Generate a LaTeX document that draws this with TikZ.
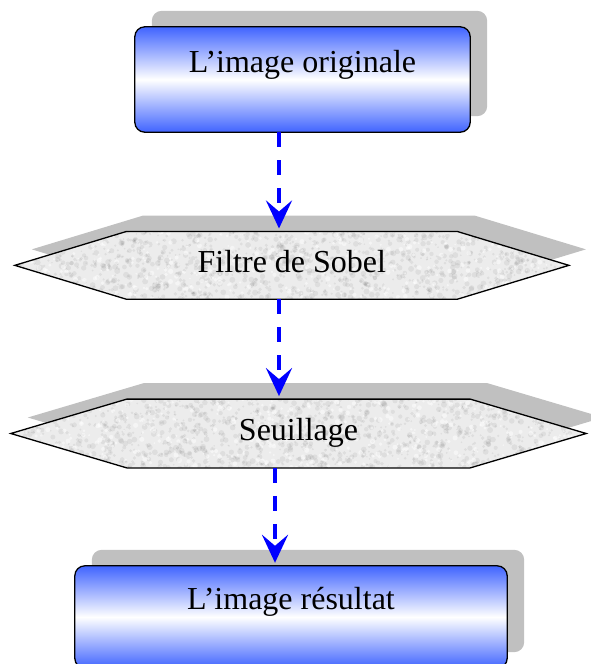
\documentclass[tikz,border=0pt]{standalone}
\usepackage{fontspec}
\setmainfont{Liberation Serif}
\usetikzlibrary{arrows.meta,calc}
\definecolor{boxblue}{RGB}{64,100,255}
\definecolor{shadowgray}{RGB}{192,192,192}
\definecolor{granite}{RGB}{236,236,236}
\definecolor{flowblue}{RGB}{0,0,255}
\pgfdeclarelayer{background}
\pgfsetlayers{background,main}

% hexagon outline around a rectangular node: #1 node, #2 point depth, #3 offset
\newcommand\hexoutline[3]{([shift={#3}]#1.west)
  -- ([shift={#3},xshift=#2]#1.north west)
  -- ([shift={#3},xshift=-#2]#1.north east)
  -- ([shift={#3}]#1.east)
  -- ([shift={#3},xshift=-#2]#1.south east)
  -- ([shift={#3},xshift=#2]#1.south west) -- cycle}

% granite-like speckle inside a hexagon: #1 node, #2 point depth
\newcommand\granitefill[2]{%
  \fill[granite] \hexoutline{#1}{#2}{(0,0)};
  \begin{scope}
    \clip \hexoutline{#1}{#2}{(0,0)};
    \foreach \k in {1,...,1400}{%
      \pgfmathsetmacro\gx{(rnd-0.5)*590}%
      \pgfmathsetmacro\gy{(rnd-0.5)*72}%
      \pgfmathsetmacro\gr{0.8+2.2*rnd}%
      \fill[black, opacity=0.06] ([xshift=\gx pt, yshift=\gy pt]#1.center) circle (\gr);
    }
    \foreach \k in {1,...,500}{%
      \pgfmathsetmacro\gx{(rnd-0.5)*590}%
      \pgfmathsetmacro\gy{(rnd-0.5)*72}%
      \pgfmathsetmacro\gr{0.8+1.8*rnd}%
      \fill[white, opacity=0.5] ([xshift=\gx pt, yshift=\gy pt]#1.center) circle (\gr);
    }
  \end{scope}
  \draw[outline] \hexoutline{#1}{#2}{(0,0)};
}

\begin{document}
\begin{tikzpicture}[x=1pt,y=-1pt,
  every node/.style={font=\fontsize{32}{38}\selectfont, inner sep=0pt},
  boxnode/.style={rectangle, text height=22pt, text depth=37pt},
  hexnode/.style={rectangle, text height=22pt, text depth=8pt},
  outline/.style={draw=black, line width=1.3pt},
  flow/.style={draw=flowblue, line width=4pt, dash pattern=on 15pt off 13pt,
    -{Stealth[length=28pt,width=26pt,inset=11pt]}, shorten >=3pt}]
\useasboundingbox (0,0) rectangle (591,664);
\pgfmathsetseed{4217}

% process steps
\node[boxnode, minimum width=335pt, minimum height=105pt] (orig) at (302.5,79.5) {L’image originale};
\node[hexnode, minimum width=553.7pt, minimum height=67.3pt] (sobel) at (291.85,265.35) {Filtre de Sobel};
\node[hexnode, minimum width=575pt, minimum height=68.4pt] (seuil) at (298.5,433.5) {Seuillage};
\node[boxnode, minimum width=432pt, minimum height=102pt] (result) at (291,617) {L’image résultat};

\begin{pgfonlayer}{background}
  % drop shadows
  \fill[shadowgray, rounded corners=10pt] ([shift={(17,-16)}]orig.south west) rectangle ([shift={(17,-16)}]orig.north east);
  \fill[shadowgray] \hexoutline{sobel}{111.5pt}{(17,-16)};
  \fill[shadowgray] \hexoutline{seuil}{116pt}{(17,-16)};
  \fill[shadowgray, rounded corners=10pt] ([shift={(17,-16)}]result.south west) rectangle ([shift={(17,-16)}]result.north east);
  % shapes
  \shadedraw[outline, rounded corners=10pt, top color=boxblue, bottom color=boxblue, middle color=white]
    (orig.south west) rectangle (orig.north east);
  \granitefill{sobel}{111.5pt}
  \granitefill{seuil}{116pt}
  \shadedraw[outline, rounded corners=10pt, top color=boxblue, bottom color=boxblue, middle color=white]
    (result.south west) rectangle (result.north east);
\end{pgfonlayer}

% connectors
\coordinate (lane) at (279,0);
\coordinate (lanelow) at (275,0);
\draw[flow] (orig.south -| lane) -- (sobel.north -| lane);
\draw[flow] (sobel.south -| lane) -- (seuil.north -| lane);
\draw[flow] (seuil.south -| lanelow) -- (result.north -| lanelow);
\end{tikzpicture}
\end{document}
